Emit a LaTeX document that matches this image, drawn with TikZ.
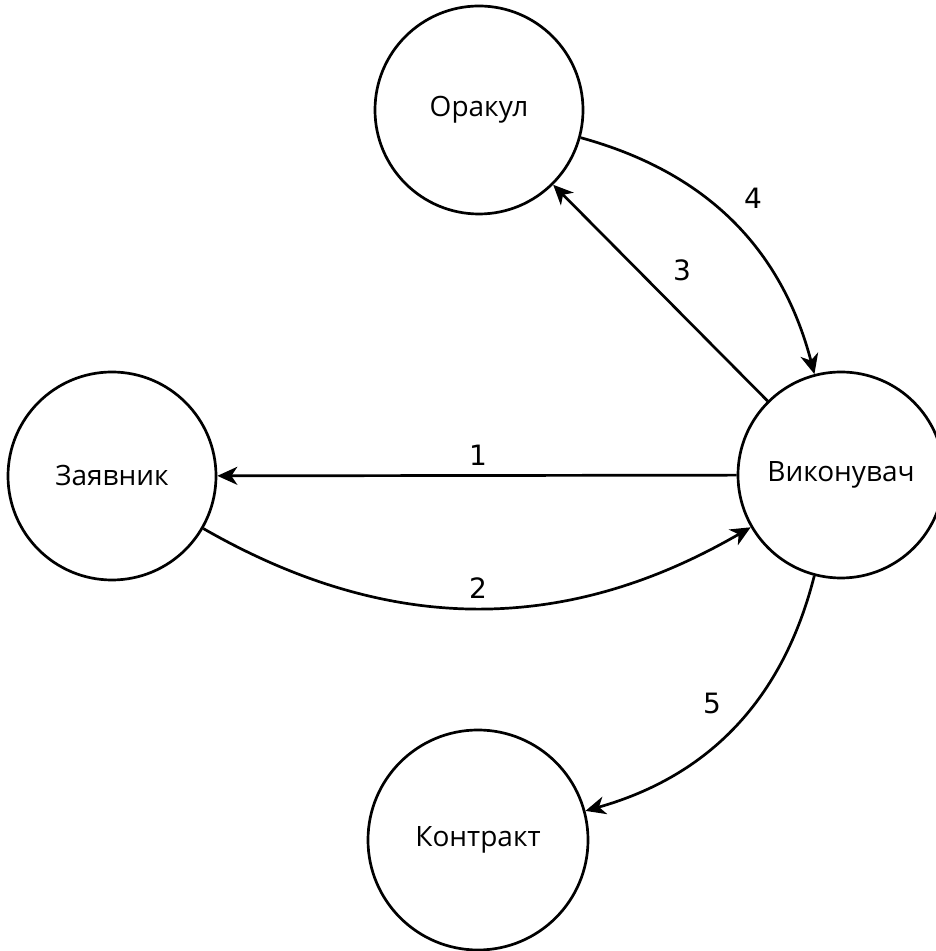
\documentclass[tikz,border=0pt]{standalone}
\usepackage{fontspec}
\setmainfont{Open Sans}
\newfontfamily\numfont{DejaVu Sans}
\usetikzlibrary{arrows.meta}
\begin{document}
\begin{tikzpicture}[x=1pt,y=1pt,
  party/.style={circle, draw, line width=2.7pt, inner sep=0pt,
    font=\fontsize{28}{32}\selectfont},
  flow/.style={line width=2.7pt,
    -{Stealth[length=20pt,width=18pt,inset=6pt]}},
  steplabel/.style={font=\numfont\fontsize{28}{32}\selectfont, inner sep=0pt}]
  \useasboundingbox (0,0) rectangle (936,951);

  % participants
  \node[party, minimum size=208pt] (oracle)   at (479,841) {Оракул};
  \node[party, minimum size=208pt] (client)   at (112,475) {Заявник};
  \node[party, minimum size=206pt] (executor) at (841,476) {Виконувач};
  \node[party, minimum size=220pt] (contract) at (478,111) {Контракт};

  % message flow
  \draw[flow] (executor) -- (client);
  \draw[flow] (client) to[bend right=30] (executor);
  \draw[flow] (executor) -- (oracle);
  \draw[flow] (oracle) to[bend left=30] (executor);
  \draw[flow] (executor) to[bend left=30] (contract);

  % step numbers
  \node[steplabel] (n1) at (478,496) {1};
  \node[steplabel] (n2) at (478,363) {2};
  \node[steplabel] (n3) at (682,681) {3};
  \node[steplabel] (n4) at (753,753) {4};
  \node[steplabel] (n5) at (712,248) {5};
\end{tikzpicture}
\end{document}
